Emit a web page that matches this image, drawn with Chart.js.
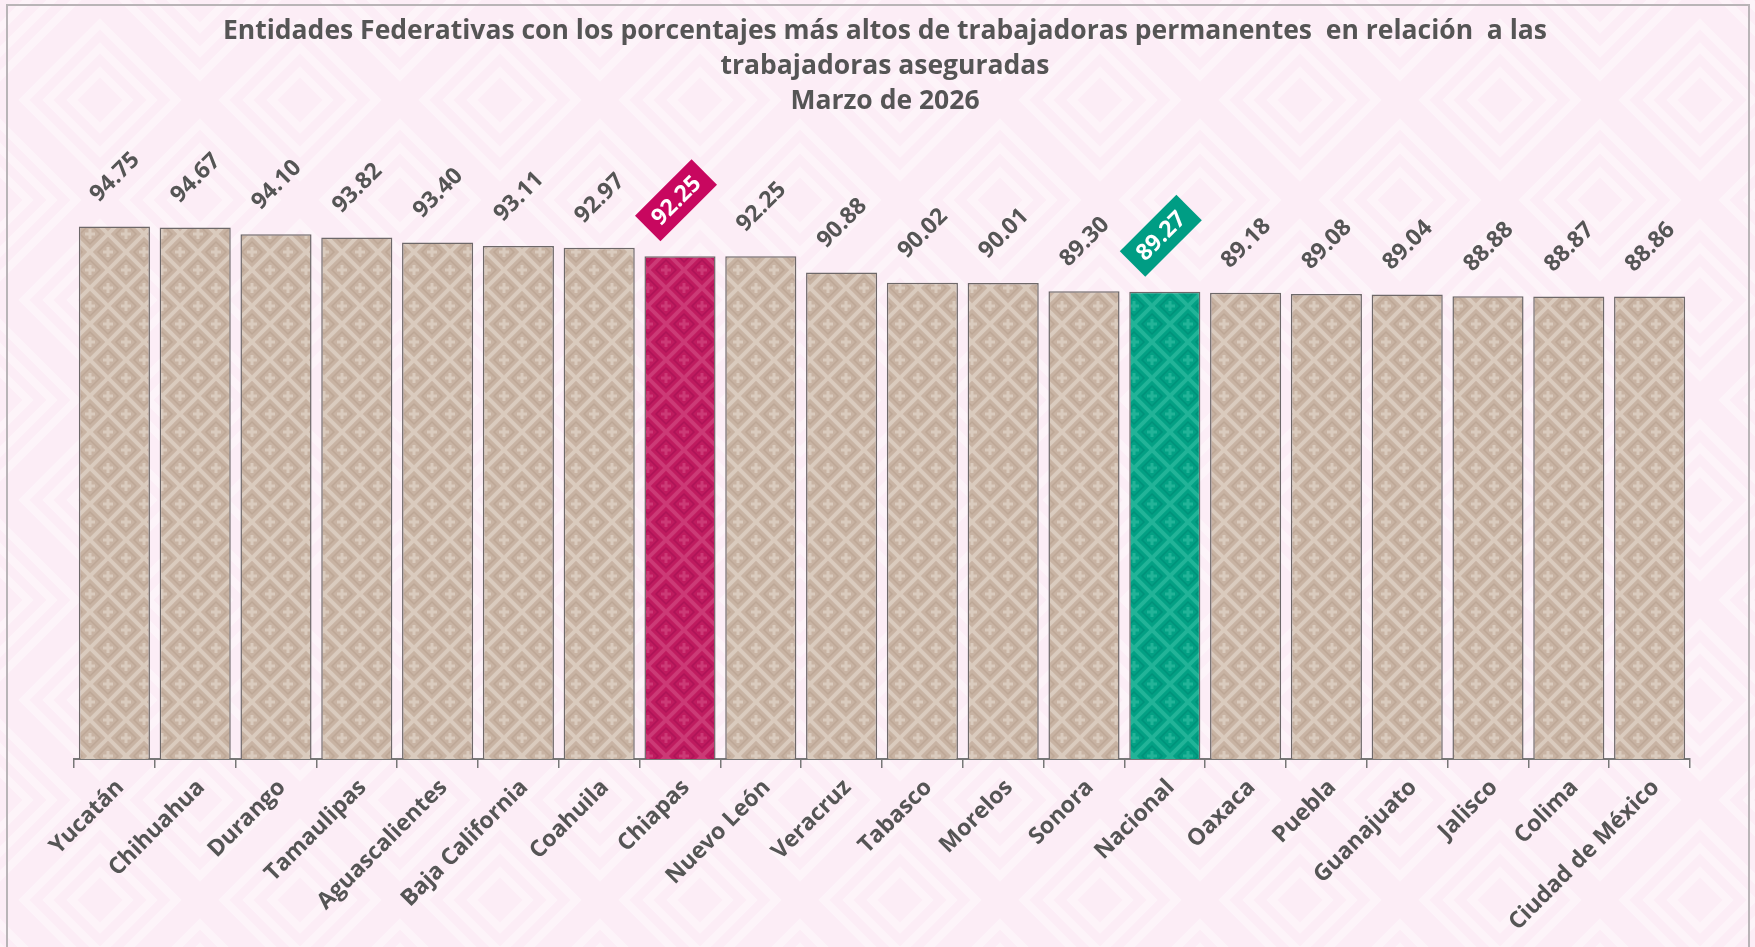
<!DOCTYPE html>
<html>
<head>
<meta charset="utf-8">
<script src="https://cdn.jsdelivr.net/npm/chart.js@4.4.1/dist/chart.umd.min.js"></script>
<style>
  html, body { margin: 0; padding: 0; background: #fcedf6; }
  #grafica { display: block; }
</style>
</head>
<body>
<canvas id="grafica" width="1755" height="947"></canvas>
<script>
// datos de la gráfica
const entidades = ['Yucatán', 'Chihuahua', 'Durango', 'Tamaulipas', 'Aguascalientes', 'Baja California', 'Coahuila', 'Chiapas', 'Nuevo León', 'Veracruz', 'Tabasco', 'Morelos', 'Sonora', 'Nacional', 'Oaxaca', 'Puebla', 'Guanajuato', 'Jalisco', 'Colima', 'Ciudad de México'];
const porcentajes = [94.75, 94.67, 94.10, 93.82, 93.40, 93.11, 92.97, 92.25, 92.25, 90.88, 90.02, 90.01, 89.30, 89.27, 89.18, 89.08, 89.04, 88.88, 88.87, 88.86];
const destacados = {'Chiapas': 'rosa', 'Nacional': 'verde'};
const titulo = [
  'Entidades Federativas con los porcentajes más altos de trabajadoras permanentes  en relación  a las',
  'trabajadoras aseguradas',
  'Marzo de 2026'
];

const FUENTE = '"Open Sans", Lato, sans-serif';

// patrón de rombos para las barras
function patronRombos(base, linea, interior){
  let c = document.createElement('canvas');
  c.width = 36; c.height = 36;
  let g = c.getContext('2d');
  g.fillStyle = base;
  g.fillRect(0, 0, 36, 36);
  g.strokeStyle = linea;
  g.lineWidth = 4;
  let diag = [[-18,36,36,-18],[0,54,54,0],[-18,0,36,54],[0,-18,54,36]];
  diag.forEach(d => { g.beginPath(); g.moveTo(d[0], d[1]); g.lineTo(d[2], d[3]); g.stroke(); });
  // rombo interior y flor en cada centro
  let centros = [[18,18],[0,0],[36,0],[0,36],[36,36]];
  centros.forEach(p => {
    g.strokeStyle = interior;
    g.lineWidth = 1.5;
    g.beginPath();
    g.moveTo(p[0], p[1]-10); g.lineTo(p[0]+10, p[1]); g.lineTo(p[0], p[1]+10); g.lineTo(p[0]-10, p[1]); g.closePath();
    g.stroke();
    g.fillStyle = linea;
    g.fillRect(p[0]-1.5, p[1]-5, 3, 10);
    g.fillRect(p[0]-5, p[1]-1.5, 10, 3);
  });
  return g.createPattern(c, 'repeat');
}

// patrón claro del fondo
function patronFondo(){
  let c = document.createElement('canvas');
  c.width = 200; c.height = 200;
  let g = c.getContext('2d');
  g.fillStyle = '#fcedf6';
  g.fillRect(0, 0, 200, 200);
  g.strokeStyle = 'rgba(255,255,255,0.4)';
  g.lineWidth = 8;
  [[100,100],[0,0],[200,0],[0,200],[200,200]].forEach(p => {
    [28, 52, 76].forEach(r => {
      g.beginPath();
      g.moveTo(p[0], p[1]-r); g.lineTo(p[0]+r, p[1]); g.lineTo(p[0], p[1]+r); g.lineTo(p[0]-r, p[1]); g.closePath();
      g.stroke();
    });
  });
  return g.createPattern(c, 'repeat');
}

const ctx = document.getElementById('grafica').getContext('2d');
const rellenoTan = patronRombos('#c8b3a3', '#dacbbe', '#bda796');
const rellenoRosa = patronRombos('#bf1b5f', '#cc3a76', '#ad1457');
const rellenoVerde = patronRombos('#03a084', '#22b398', '#00917a');

let colores = entidades.map(e => destacados[e] == 'rosa' ? rellenoRosa : destacados[e] == 'verde' ? rellenoVerde : rellenoTan);

const fondo = {
  id: 'fondo',
  beforeDraw(chart){
    let c = chart.ctx;
    c.save();
    c.fillStyle = patronFondo();
    c.fillRect(0, 0, chart.width, chart.height);
    c.strokeStyle = '#b9b4b7';
    c.lineWidth = 2;
    c.strokeRect(7, 5, 1742, 960);
    // titulo
    c.fillStyle = '#555555';
    c.font = 'bold 26.5px ' + FUENTE;
    c.textAlign = 'center';
    c.textBaseline = 'middle';
    titulo.forEach((t, i) => c.fillText(t, 885, 31 + i * 35));
    c.restore();
  }
};

const etiquetas = {
  id: 'etiquetas',
  afterDatasetsDraw(chart){
    let c = chart.ctx;
    let meta = chart.getDatasetMeta(0);
    c.save();
    c.font = 'bold 23px ' + FUENTE;
    c.textAlign = 'center';
    c.textBaseline = 'middle';
    meta.data.forEach((bar, i) => {
      let tipo = destacados[entidades[i]];
      let texto = porcentajes[i].toFixed(2);
      c.save();
      if (tipo){
        c.translate(bar.x - 4, bar.y - 56);
        c.rotate(-Math.PI / 4);
        c.fillStyle = tipo == 'rosa' ? '#c8075f' : '#009d84';
        c.fillRect(-40, -18, 80, 36);
        c.fillStyle = '#ffffff';
      } else {
        c.translate(bar.x, bar.y - 50);
        c.rotate(-Math.PI / 4);
        c.fillStyle = '#555555';
      }
      c.fillText(texto, 0, 1);
      c.restore();
    });
    c.restore();
  }
};

new Chart(ctx, {
  type: 'bar',
  data: {
    labels: entidades,
    datasets: [{
      data: porcentajes,
      backgroundColor: colores,
      borderColor: '#6d6869',
      borderWidth: 1.5,
      borderSkipped: 'bottom',
      barPercentage: 0.88,
      categoryPercentage: 1
    }]
  },
  options: {
    responsive: false,
    animation: false,
    layout: { padding: { left: 74, right: 65, top: 164, bottom: 0 }, autoPadding: false },
    scales: {
      x: {
        offset: true,
        grid: { display: true, drawOnChartArea: false, drawTicks: true, tickLength: 9, color: '#777777', lineWidth: 1.5, offset: true },
        border: { display: true, color: '#777777', width: 2 },
        ticks: {
          autoSkip: false, minRotation: 45, maxRotation: 45, padding: 6, labelOffset: 6,
          color: '#555555',
          font: { family: FUENTE, size: 23, weight: 'bold' }
        },
        afterFit(scale){
          scale.height = 188;
          scale.paddingLeft = 0;
          scale.paddingRight = 0;
        }
      },
      y: { display: false, min: 50, max: 100 }
    },
    plugins: { legend: { display: false }, tooltip: { enabled: false }, title: { display: false } }
  },
  plugins: [fondo, etiquetas]
});
</script>
</body>
</html>
